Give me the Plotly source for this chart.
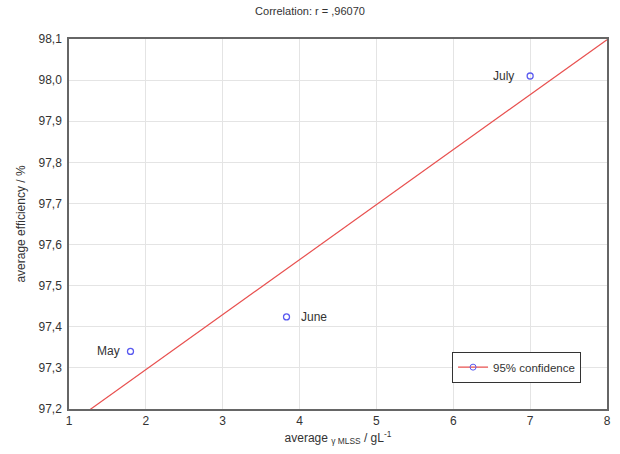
import numpy as np
import plotly.graph_objects as go

months = ["May", "June", "July"]
mlss = [1.80, 3.83, 7.00]
efficiency = [97.34, 97.424, 98.01]
label_side = ["right", "left", "right"]   # xanchor of each label
label_shift = [-8, 12, -14]
x_range = [1, 8]
y_range = [97.2, 98.1]

slope, intercept = np.polyfit(mlss, efficiency, 1)
line_x = np.linspace(x_range[0], x_range[1], 50)
line_y = slope * line_x + intercept

font = "Liberation Sans, Arial, sans-serif"
fig = go.Figure()
fig.add_trace(go.Scatter(
    x=line_x, y=line_y, mode="lines",
    line=dict(color="#e8504f", width=1.2), showlegend=False, hoverinfo="skip"))
fig.add_trace(go.Scatter(
    x=mlss, y=efficiency, mode="markers",
    marker=dict(symbol="circle-open", size=6, color="#5a5af0", line=dict(width=1.3)),
    showlegend=False))
fig.add_trace(go.Scatter(
    x=[None], y=[None], mode="lines+markers", name="95% confidence",
    line=dict(color="#e8504f", width=1.2),
    marker=dict(symbol="circle-open", size=6, color="#5a5af0")))

for m, xv, yv, side, sh in zip(months, mlss, efficiency, label_side, label_shift):
    fig.add_annotation(x=xv, y=yv, text=m, showarrow=False, xanchor=side,
                       yanchor="middle", xshift=sh,
                       font=dict(size=12, color="#333333", family=font))

fig.update_layout(
    width=620, height=454,
    margin=dict(l=69, r=9, t=39, b=45),
    paper_bgcolor="white", plot_bgcolor="white",
    separators=",.",
    font=dict(family=font, size=12, color="#333333"),
    title=dict(text="Correlation: r = ,96070", x=0.5, xanchor="center",
               y=0.985, yanchor="top", font=dict(size=11, color="#333333")),
    legend=dict(x=0.712, y=0.155, xanchor="left", yanchor="top",
                bordercolor="#333333", borderwidth=1, bgcolor="white",
                font=dict(size=11.5, color="#333333")),
    xaxis=dict(range=x_range, dtick=1, tickformat="d",
               showgrid=True, gridcolor="#e4e4e4", gridwidth=1,
               showline=True, linecolor="#666666", linewidth=1.5, mirror=True,
               ticks="", zeroline=False,
               title=dict(text="average <sub>γ MLSS</sub> / gL<sup>-1</sup>",
                          font=dict(size=12), standoff=6)),
    yaxis=dict(range=y_range, dtick=0.1, tickformat=".1f",
               showgrid=True, gridcolor="#e4e4e4", gridwidth=1,
               showline=True, linecolor="#666666", linewidth=1.5, mirror=True,
               ticks="outside", ticklen=3, tickcolor="white", zeroline=False,
               title=dict(text="average efficiency / %", font=dict(size=12), standoff=10)),
)
fig.write_html("out.html")
